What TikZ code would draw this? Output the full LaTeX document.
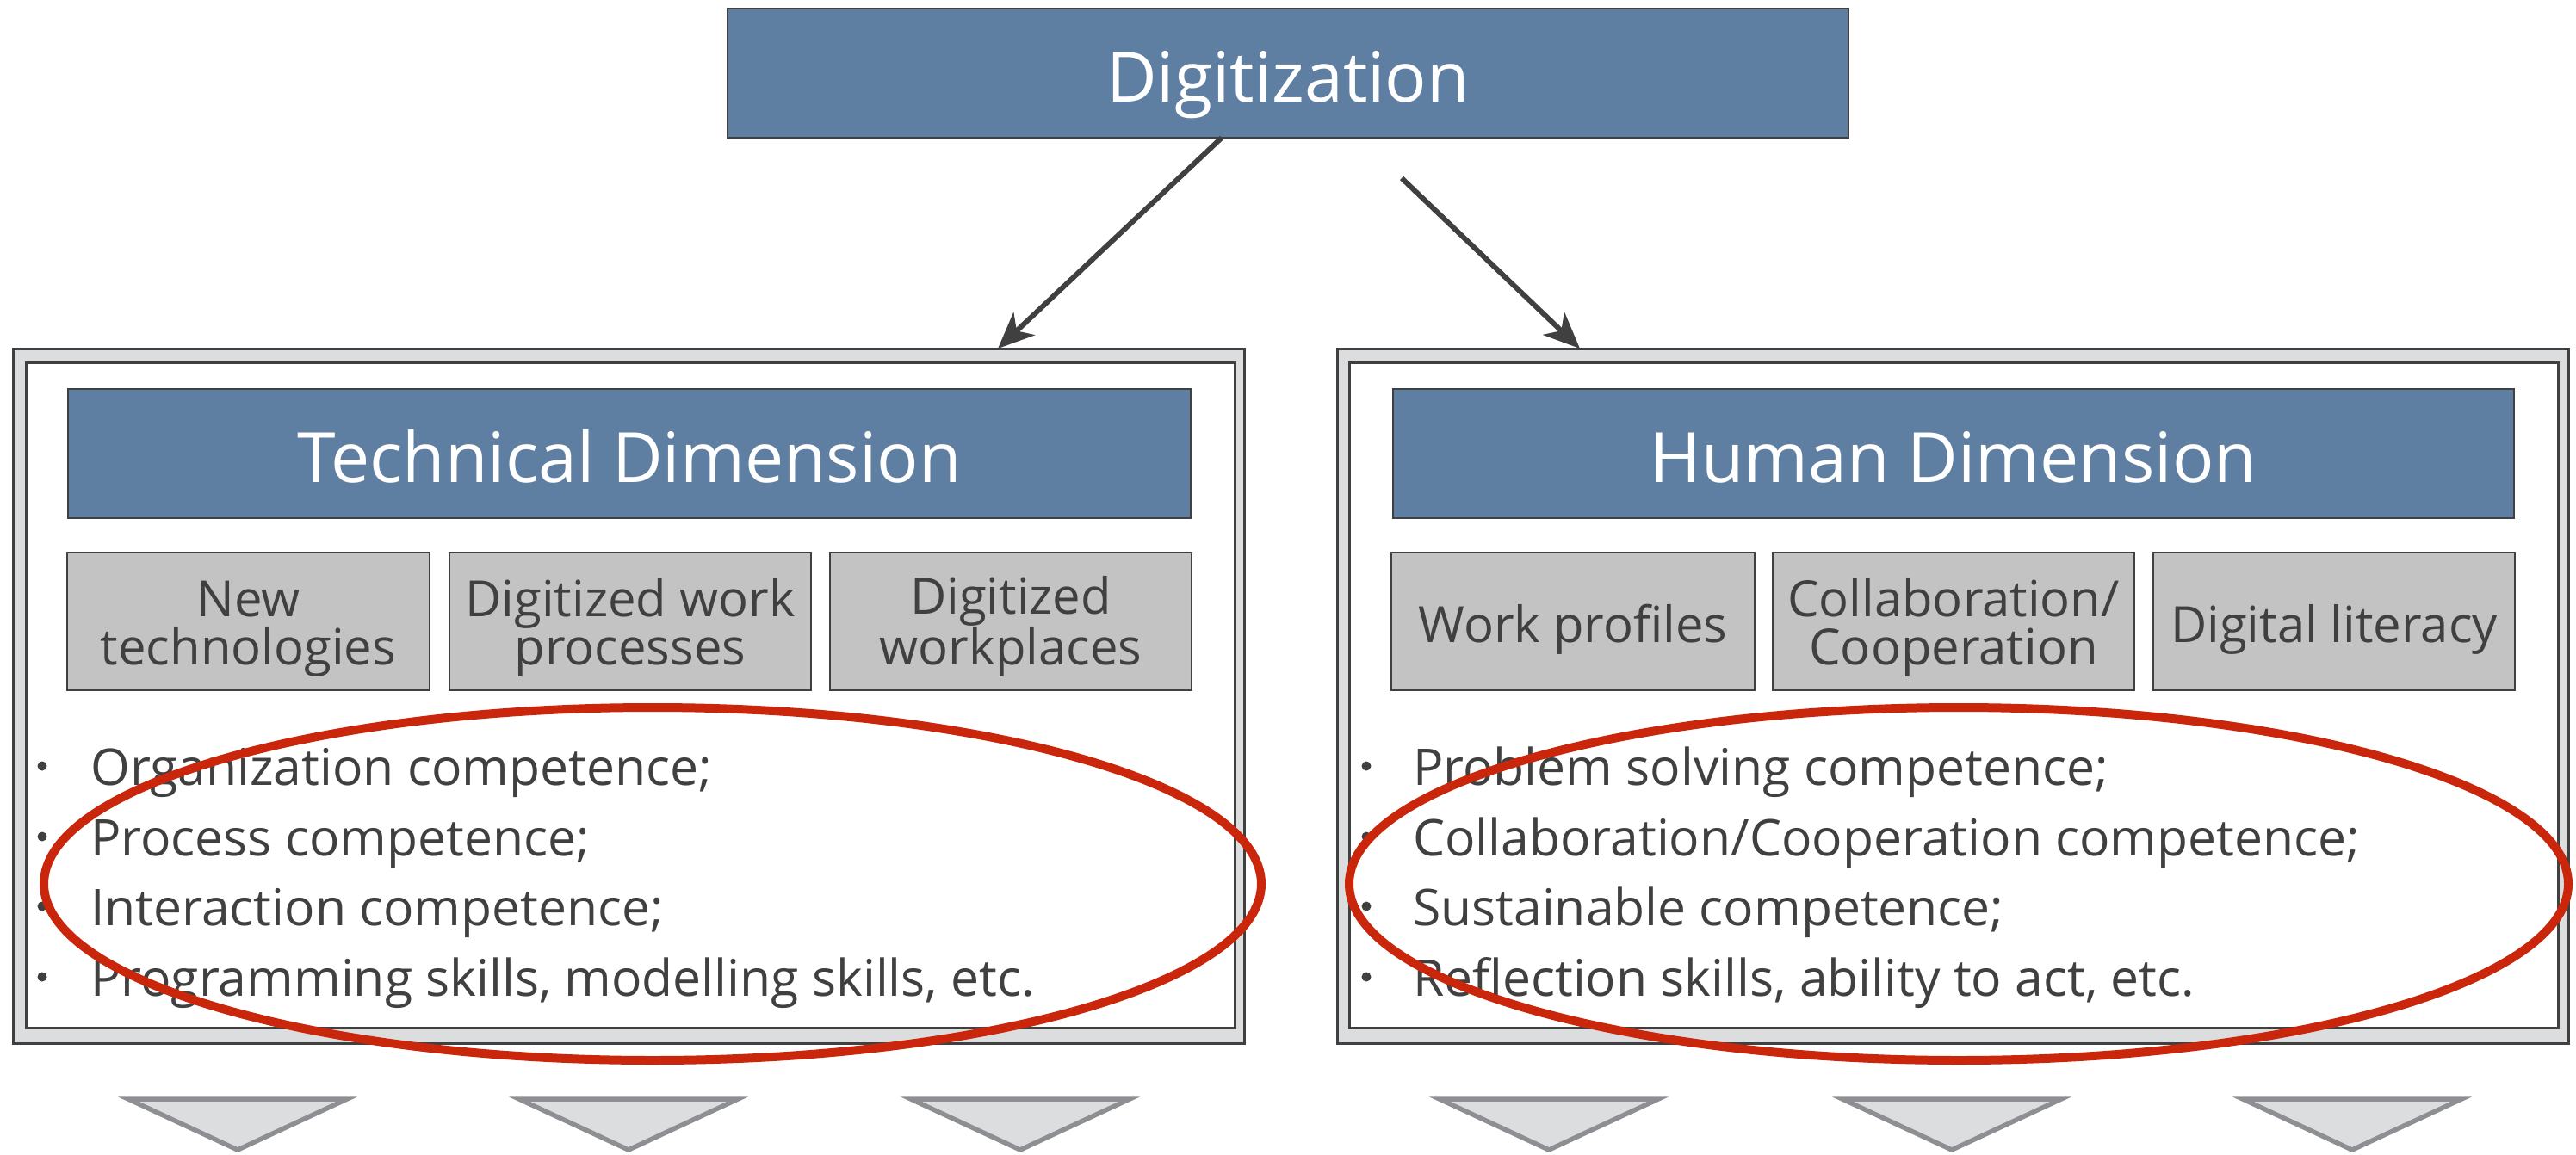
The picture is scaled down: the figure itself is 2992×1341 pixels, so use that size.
\documentclass[tikz,border=0pt]{standalone}
\usepackage{fontspec}
\setmainfont{Open Sans}
\usetikzlibrary{arrows.meta,decorations.pathmorphing}
\definecolor{blueF}{RGB}{94,127,161}
\definecolor{dk}{RGB}{64,64,64}
\definecolor{grayF}{RGB}{195,195,195}
\definecolor{band}{RGB}{220,221,223}
\definecolor{triS}{RGB}{142,143,147}
\definecolor{redE}{RGB}{201,38,12}
\begin{document}
\begin{tikzpicture}[x=1pt,y=-1pt,
  titlebox/.style={draw=dk, line width=2.5pt, fill=blueF, text=white,
    font=\fontsize{80.5}{96}\selectfont, inner sep=0pt, outer sep=0pt,
    text height=66pt, text depth=0pt},
  subtwo/.style={draw=dk, line width=2.5pt, fill=grayF, text=dk,
    font=\fontsize{58}{56}\selectfont, align=center, inner sep=0pt, outer sep=0pt,
    minimum height=160pt, text height=100pt, text depth=0pt},
  subone/.style={subtwo, text height=48pt, text depth=0pt},
  frameout/.style={draw=dk, line width=3pt, fill=band, inner sep=0pt, outer sep=0pt},
  framein/.style={draw=dk, line width=3pt, fill=white, inner sep=0pt, outer sep=0pt},
  item/.style={anchor=base west, text=dk, font=\fontsize{58.8}{70}\selectfont, inner sep=0pt},
  conn/.style={draw=dk, line width=6pt, -{Stealth[length=42pt,width=36pt,inset=12pt]}},
  tri/.style={draw=triS, fill=band, line width=5.5pt, line join=miter},
  ellbase/.style={draw=redE, line width=10pt},
  ellrough/.style={draw=redE, line width=4pt, line join=round, line cap=round, decorate,
    decoration={random steps, segment length=3pt, amplitude=2pt}}
]
\useasboundingbox (0,0) rectangle (2992,1341);
\fill[white] (0,0) rectangle (2992,1341);

% top box
\node[titlebox, minimum width=1302pt, minimum height=150pt] (digi) at (1496,85) {Digitization};

% frames
\node[frameout, minimum width=1430pt, minimum height=807pt] (tframe) at (730,808.5) {};
\node[framein, minimum width=1404pt, minimum height=773pt] (tframein) at (732,807.5) {};
\node[frameout, minimum width=1430pt, minimum height=807pt] (hframe) at (2268,808.5) {};
\node[framein, minimum width=1404pt, minimum height=773pt] (hframein) at (2269,807.5) {};

% dimension titles
\node[titlebox, minimum width=1304pt, minimum height=150pt] (tdim) at (731,527) {Technical Dimension};
\node[titlebox, minimum width=1302pt, minimum height=150pt] (hdim) at (2269,527) {Human Dimension};

% sub boxes
\node[subtwo, minimum width=421pt] (t1) at (288.5,722) {New\\technologies};
\node[subtwo, minimum width=420pt] (t2) at (732,722) {Digitized work\\processes};
\node[subtwo, minimum width=420pt] (t3) at (1174,722) {Digitized\\workplaces};
\node[subone, minimum width=422pt] (h1) at (1827,722) {Work profiles};
\node[subtwo, minimum width=420pt] (h2) at (2269,722) {Collaboration/\\Cooperation};
\node[subone, minimum width=420pt] (h3) at (2711,722) {Digital literacy};

% bullet lists
\foreach \yy in {890,972,1053,1135} {
  \fill[dk] (49,\yy) circle (5.5);
  \fill[dk] (1587,\yy) circle (5.5);
}
\node[item] (tl1) at (105,912) {Organization competence;};
\node[item] (tl2) at (105,994) {Process competence;};
\node[item] (tl3) at (105,1075) {Interaction competence;};
\node[item] (tl4) at (105,1157) {Programming skills, modelling skills, etc.};
\node[item] (hl1) at (1641,912) {Problem solving competence;};
\node[item] (hl2) at (1641,994) {Collaboration/Cooperation competence;};
\node[item] (hl3) at (1641,1075) {Sustainable competence;};
\node[item] (hl4) at (1641,1157) {Reflection skills, ability to act, etc.};

% arrows
\coordinate (lsx) at (1419,0);
\coordinate (lex) at (1159,0);
\coordinate (rs) at (1628,207);
\coordinate (rex) at (1835,0);
\draw[conn] (digi.south -| lsx) -- (tframe.north -| lex);
\draw[conn] (rs) -- (hframe.north -| rex);

% triangles
\foreach \cx in {276,730,1185,1799,2267,2732} {
  \draw[tri] (\cx-127,1277) -- (\cx+127,1277) -- (\cx,1336) -- cycle;
}

% red ellipses
\draw[ellbase] (758,1027) ellipse [x radius=707, y radius=205];
\draw[ellrough] (758,1027) ellipse [x radius=707, y radius=205];
\draw[ellbase] (2275,1027) ellipse [x radius=708, y radius=205];
\draw[ellrough] (2275,1027) ellipse [x radius=708, y radius=205];
\end{tikzpicture}
\end{document}
